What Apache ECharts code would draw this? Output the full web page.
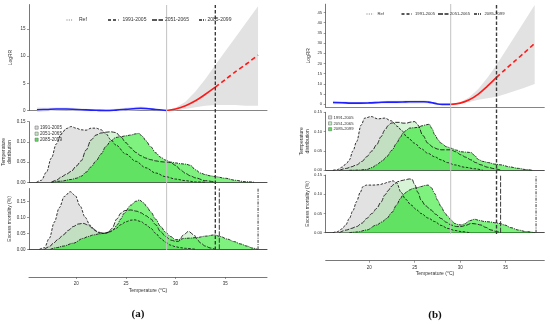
<!DOCTYPE html>
<html><head><meta charset="utf-8">
<script src="https://cdn.jsdelivr.net/npm/echarts@6/dist/echarts.min.js"></script>
<style>html,body{margin:0;padding:0;background:#fff}#c{width:550px;height:324px}</style>
</head><body><div id="c"></div>
<script>
// ================= DATA =================
const periods = ['1991-2005', '2051-2065', '2085-2099'];
const refLabel = 'Ref';
const xTicks = [20, 25, 30, 35];
const rrTicksA = [0, 5, 10, 15];
const rrTicksB = [0, 5, 10, 15, 20, 25, 30, 35, 40, 45];
const fracTicks = [0, 0.05, 0.10, 0.15];
const mmtA = 29.1, mmtB = 28.96;
const thrA = [34.0, 34.4, 38.3];
const thrB = [34.0, 34.45, 38.35];

// (a) exposure-response
const aBlueT = [16.05, 17, 18, 19, 20, 21, 22, 23, 24, 25, 26, 26.5, 27, 28, 29.1];
const aBlueV = [0.15, 0.2, 0.28, 0.28, 0.2, 0.12, 0.05, 0.0, 0.08, 0.22, 0.38, 0.42, 0.38, 0.2, 0];
const aBlueLo = [-0.25, -0.15, -0.05, 0, -0.05, -0.12, -0.15, -0.2, -0.15, -0.05, 0.05, 0.1, 0.1, 0.05, 0];
const aBlueHi = [0.55, 0.5, 0.55, 0.55, 0.45, 0.35, 0.25, 0.25, 0.35, 0.5, 0.7, 0.75, 0.65, 0.35, 0];
const aRedT = [29.1, 30, 31, 32, 33, 34];
const aRedV = [0, 0.3, 0.9, 1.8, 3.0, 4.3];
const aRedXT = [34, 35, 36, 37, 38.3];
const aRedXV = [4.3, 5.7, 7.1, 8.4, 10.2];
const aRedBandT = [30, 31, 32, 33, 34, 35, 36, 37, 38.3];
const aRedLo = [0.05, 0.3, 0.6, 0.9, 1.0, 1.0, 1.0, 0.9, 0.9];
const aRedHi = [0.5, 1.6, 3.5, 5.8, 8.4, 10.9, 13.4, 15.9, 19.2];

// (a) temperature distribution
const aD1T = [16.0, 16.5, 17.0, 17.5, 18.0, 18.5, 19.0, 19.5, 20.0, 20.5, 21.0, 21.5, 22.0, 22.5, 23.0, 23.5, 24.0, 25.0, 26.0, 27.0, 28.0, 29.0, 30.0, 31.0, 32.0, 33.0];
const aD1V = [0, 0.005, 0.025, 0.06, 0.095, 0.12, 0.133, 0.138, 0.134, 0.13, 0.129, 0.134, 0.134, 0.13, 0.12, 0.105, 0.092, 0.07, 0.052, 0.036, 0.023, 0.014, 0.008, 0.004, 0.001, 0];
const aD2T = [17.5, 18.0, 18.5, 19.0, 19.5, 20.0, 20.5, 21.0, 21.5, 22.0, 22.5, 23.0, 23.5, 24.0, 24.5, 25.0, 25.5, 26.0, 26.5, 27.0, 27.5, 28.0, 28.5, 29.0, 29.5, 30.0, 30.5, 31.0, 31.5, 32.0, 33.0, 34.0];
const aD2V = [0, 0.005, 0.013, 0.02, 0.027, 0.04, 0.053, 0.08, 0.105, 0.117, 0.122, 0.124, 0.125, 0.123, 0.112, 0.098, 0.085, 0.074, 0.066, 0.06, 0.056, 0.053, 0.051, 0.05, 0.049, 0.042, 0.031, 0.022, 0.016, 0.011, 0.004, 0];
const aD3T = [17.5, 18.5, 19.5, 20.0, 20.5, 21.0, 21.5, 22.0, 22.5, 23.0, 23.5, 24.0, 24.5, 25.0, 25.5, 26.0, 26.3, 26.7, 27.0, 27.5, 28.0, 28.5, 29.0, 29.5, 30.0, 30.5, 31.0, 31.5, 32.0, 32.5, 33.0, 33.5, 34.0, 35.0, 36.0, 37.0, 38.0];
const aD3V = [0, 0.003, 0.007, 0.01, 0.015, 0.025, 0.038, 0.053, 0.07, 0.089, 0.103, 0.111, 0.113, 0.115, 0.117, 0.12, 0.121, 0.113, 0.103, 0.088, 0.073, 0.062, 0.055, 0.05, 0.048, 0.046, 0.045, 0.042, 0.031, 0.023, 0.019, 0.016, 0.014, 0.01, 0.005, 0.0015, 0];

// (a) excess mortality
const aM1T = [16.3, 16.8, 17.3, 17.8, 18.3, 18.8, 19.4, 19.9, 20.4, 20.9, 21.4, 21.9, 22.4, 22.9, 23.4, 24.0, 24.5, 25.0, 25.5, 25.9, 26.5, 27.0, 27.5, 28.0, 28.5, 29.0, 29.5, 30.0, 30.5, 31.0, 32.0];
const aM1V = [0, 0.005, 0.035, 0.085, 0.13, 0.165, 0.18, 0.168, 0.135, 0.1, 0.075, 0.058, 0.05, 0.05, 0.055, 0.065, 0.077, 0.086, 0.091, 0.092, 0.087, 0.077, 0.066, 0.05, 0.034, 0.022, 0.013, 0.008, 0.005, 0.003, 0];
const aM2T = [16.8, 17.3, 17.7, 18.2, 18.7, 19.2, 19.7, 20.2, 20.7, 21.2, 21.7, 22.2, 22.75, 23.2, 23.6, 24.1, 24.5, 24.9, 25.5, 26.1, 26.5, 27.0, 27.5, 28.0, 28.5, 29.0, 29.5, 30.0, 30.3, 30.8, 31.3, 31.85, 32.2, 32.5, 33.0, 33.5, 34.0];
const aM2V = [0, 0.008, 0.019, 0.032, 0.045, 0.059, 0.071, 0.079, 0.081, 0.076, 0.064, 0.054, 0.05, 0.052, 0.065, 0.095, 0.113, 0.121, 0.123, 0.119, 0.114, 0.105, 0.095, 0.077, 0.055, 0.04, 0.029, 0.025, 0.025, 0.045, 0.056, 0.045, 0.03, 0.02, 0.01, 0.004, 0];
const aM3T = [17.4, 18.0, 18.7, 19.7, 20.7, 21.2, 21.75, 22.3, 22.75, 23.4, 23.8, 24.1, 24.5, 24.8, 25.5, 26.0, 26.35, 26.8, 27.1, 27.5, 28.0, 28.5, 29.0, 29.5, 30.0, 30.5, 30.8, 31.5, 32.2, 33.0, 33.9, 34.5, 35.2, 35.9, 36.5, 37.2, 37.7, 38.25];
const aM3V = [0, 0.005, 0.01, 0.019, 0.034, 0.04, 0.045, 0.048, 0.05, 0.055, 0.063, 0.076, 0.095, 0.112, 0.138, 0.15, 0.154, 0.145, 0.133, 0.117, 0.094, 0.071, 0.053, 0.04, 0.03, 0.031, 0.034, 0.035, 0.037, 0.041, 0.045, 0.04, 0.032, 0.024, 0.017, 0.01, 0.004, 0];

// (b) exposure-response
const bBlueT = [16.0, 17, 18, 19, 20, 21, 22, 23, 24, 25, 26, 26.5, 27, 27.5, 28, 28.96];
const bBlueV = [0.9, 0.8, 0.6, 0.6, 0.7, 0.9, 1.1, 1.1, 1.2, 1.3, 1.3, 1.1, 0.7, 0.2, 0.0, 0];
const bBlueLo = [0.1, 0.2, 0.1, 0.1, 0.2, 0.3, 0.4, 0.4, 0.4, 0.4, 0.5, 0.4, 0.2, -0.1, -0.2, 0];
const bBlueHi = [1.8, 1.5, 1.2, 1.2, 1.3, 1.5, 1.7, 1.8, 1.9, 2.0, 2.0, 1.8, 1.2, 0.6, 0.2, 0];
const bRedT = [28.96, 30, 31, 32, 33, 34];
const bRedV = [0, 0.6, 2.2, 5.0, 8.9, 13.2];
const bRedXT = [34, 35, 36, 37, 38.2];
const bRedXV = [13.2, 17.2, 21.1, 25.0, 29.8];
const bRedBandT = [30, 31, 32, 33, 34, 35, 36, 37, 38.2];
const bRedLo = [0.3, 1.2, 2.2, 3.0, 3.7, 5.0, 6.5, 8.0, 9.9];
const bRedHi = [1.0, 3.5, 7.5, 13.0, 19.2, 26.2, 33.2, 40.2, 48.6];

// (b) temperature distribution
const bD1T = [16.0, 16.5, 17.0, 17.5, 17.8, 18.2, 18.6, 19.1, 19.5, 20.2, 20.95, 21.7, 22.4, 23.15, 23.5, 24.2, 25.0, 25.7, 26.45, 27.2, 27.9, 28.6, 29.4, 30.5, 31.6, 32.5];
const bD1V = [0, 0.002, 0.008, 0.018, 0.027, 0.05, 0.074, 0.117, 0.135, 0.139, 0.133, 0.135, 0.128, 0.113, 0.104, 0.085, 0.07, 0.056, 0.044, 0.035, 0.027, 0.02, 0.014, 0.008, 0.004, 0];
const bD2T = [16.7, 17.5, 18.0, 18.6, 19.2, 19.7, 20.3, 20.8, 21.3, 21.7, 22.1, 22.4, 22.9, 23.3, 23.7, 24.1, 24.6, 25.0, 25.35, 25.9, 26.45, 27.0, 27.5, 27.9, 28.5, 29.0, 29.5, 30.1, 30.6, 31.2, 31.7, 32.3, 33.0, 33.8, 34.5];
const bD2V = [0, 0.005, 0.009, 0.014, 0.023, 0.035, 0.05, 0.066, 0.087, 0.104, 0.116, 0.122, 0.124, 0.124, 0.122, 0.122, 0.125, 0.126, 0.117, 0.09, 0.07, 0.06, 0.055, 0.053, 0.053, 0.053, 0.048, 0.04, 0.034, 0.027, 0.02, 0.014, 0.008, 0.004, 0];
const bD3T = [17.8, 18.7, 19.7, 20.3, 20.8, 21.4, 21.9, 22.5, 23.0, 23.4, 23.7, 24.1, 24.4, 24.9, 25.35, 25.8, 26.3, 26.6, 26.9, 27.2, 27.6, 27.9, 28.5, 29.0, 29.6, 30.1, 30.6, 31.2, 31.6, 32.0, 32.5, 33.1, 33.8, 34.5, 35.4, 36.4, 37.2, 38.0];
const bD3V = [0, 0.0005, 0.002, 0.007, 0.014, 0.024, 0.035, 0.052, 0.07, 0.085, 0.096, 0.104, 0.109, 0.11, 0.111, 0.115, 0.118, 0.119, 0.108, 0.092, 0.078, 0.07, 0.061, 0.057, 0.052, 0.048, 0.047, 0.046, 0.038, 0.028, 0.023, 0.02, 0.016, 0.014, 0.009, 0.005, 0.002, 0];

// (b) excess mortality
const bM1T = [16.0, 16.5, 17.0, 17.4, 17.8, 18.2, 18.6, 19.0, 19.3, 19.7, 20.4, 21.1, 21.6, 22.1, 22.6, 23.0, 23.5, 24.0, 24.6, 25.2, 25.7, 26.5, 27.2, 27.9, 28.65, 29.4, 30.1, 31.0];
const bM1V = [0, 0.003, 0.01, 0.02, 0.037, 0.058, 0.081, 0.105, 0.12, 0.124, 0.124, 0.125, 0.128, 0.132, 0.135, 0.13, 0.105, 0.087, 0.072, 0.06, 0.05, 0.038, 0.029, 0.019, 0.011, 0.006, 0.003, 0];
const bM2T = [16.7, 17.5, 18.0, 18.6, 19.2, 19.7, 20.3, 20.8, 21.3, 21.7, 22.1, 22.4, 22.8, 23.15, 23.6, 24.0, 24.4, 24.7, 25.0, 25.35, 25.7, 26.2, 26.8, 27.3, 27.9, 28.5, 29.0, 29.6, 30.1, 30.6, 31.2, 31.7, 32.3, 32.8, 33.4, 34.0, 34.5];
const bM2V = [0, 0.007, 0.011, 0.016, 0.025, 0.037, 0.05, 0.063, 0.08, 0.098, 0.11, 0.12, 0.128, 0.133, 0.136, 0.138, 0.14, 0.139, 0.125, 0.105, 0.085, 0.07, 0.059, 0.048, 0.037, 0.027, 0.02, 0.016, 0.016, 0.019, 0.024, 0.023, 0.02, 0.014, 0.007, 0.003, 0];
const bM3T = [17.8, 18.7, 19.7, 20.8, 21.4, 21.9, 22.5, 23.0, 23.4, 23.7, 24.1, 24.4, 24.8, 25.2, 25.7, 26.1, 26.45, 26.8, 27.2, 27.5, 27.9, 28.3, 28.65, 29.0, 29.4, 29.8, 30.1, 30.5, 31.0, 31.6, 32.1, 32.7, 33.3, 33.8, 34.4, 34.9, 35.6, 36.4, 37.2, 38.2];
const bM3V = [0, 0.002, 0.007, 0.02, 0.028, 0.037, 0.053, 0.072, 0.088, 0.098, 0.106, 0.111, 0.115, 0.117, 0.12, 0.123, 0.124, 0.118, 0.102, 0.085, 0.068, 0.052, 0.042, 0.033, 0.024, 0.021, 0.02, 0.023, 0.031, 0.035, 0.032, 0.029, 0.028, 0.026, 0.024, 0.02, 0.013, 0.007, 0.003, 0];

// ================= STYLE =================
const FONT = 'Liberation Sans, Arial, sans-serif';
const DASH = [[2.5, 1.5], [4.5, 1.5], [3, 1, 1, 1]];
const FILL = ['rgba(185,185,185,0.42)', 'rgba(110,215,110,0.28)', 'rgba(10,228,10,0.52)'];
const BOXFILL = ['#dcdcdc', '#c3ebc3', '#55e055'];
const AX = '#555';

function zip(t, v) { return t.map((x, i) => [x, v[i]]); }

// ================= LAYOUT =================
const colA = { left: 29, width: 238, xmin: 15.25, xmax: 39.2 };
const colB = { left: 325.7, width: 218.6, xmin: 15.2, xmax: 39.26 };
const grids = [
  { ...colA, top: 4.55, height: 106 },      // 0 logRR
  { ...colA, top: 121.7, height: 60.6 },    // 1 distribution
  { ...colA, top: 188.5, height: 60.8 },    // 2 excess mortality
  { ...colA, top: 276, height: 1 },         // 3 temperature axis
  { ...colA, top: 5, height: 245 },         // 4 overlay
  { ...colB, top: 4.2, height: 103.2 },     // 5
  { ...colB, top: 112.3, height: 58 },      // 6
  { ...colB, top: 175.1, height: 57.6 },    // 7
  { ...colB, top: 259.7, height: 1 },       // 8
  { ...colB, top: 4, height: 230 }          // 9
];

const gridOpt = grids.map(g => ({ left: g.left, top: g.top, width: g.width, height: g.height, containLabel: false, outerBoundsMode: 'none' }));

const xAxes = grids.map((g, i) => {
  const isAxis = (i === 3 || i === 8);
  const isOverlay = (i === 4 || i === 9);
  const base = { type: 'value', gridIndex: i, min: g.xmin, max: g.xmax, splitLine: { show: false } };
  if (isOverlay) return { ...base, show: false };
  if (isAxis) return {
    ...base,
    axisLine: { show: true, onZero: false, lineStyle: { color: AX, width: 0.8 } },
    axisTick: { show: true, length: 2, customValues: xTicks, lineStyle: { color: AX, width: 0.6 } },
    axisLabel: { show: true, customValues: xTicks, fontSize: 4.5, color: '#333', fontFamily: FONT, margin: i === 3 ? 4 : 4.5 },
    name: 'Temperature (°C)', nameLocation: 'middle', nameGap: i === 3 ? 11 : 9.5,
    nameTextStyle: { fontSize: 5, color: '#333', fontFamily: FONT }
  };
  return { ...base,
    axisLine: { show: true, onZero: false, lineStyle: { color: (i === 0 || i === 5) ? '#666' : '#222', width: 0.8 } },
    axisTick: { show: false }, axisLabel: { show: false } };
});

function yAx(i, min, max, ticks, fmt, name, gap, fs) {
  return {
    type: 'value', gridIndex: i, min, max, splitLine: { show: false },
    axisLine: { show: true, lineStyle: { color: AX, width: 0.8 } },
    axisTick: { show: true, length: 2, customValues: ticks, lineStyle: { color: AX, width: 0.6 } },
    axisLabel: { show: true, customValues: ticks, fontSize: fs || 4.5, color: '#333', fontFamily: FONT, margin: 3.5, formatter: fmt },
    name, nameLocation: 'middle', nameGap: gap, nameRotate: 90,
    nameTextStyle: { fontSize: 5, color: '#333', fontFamily: FONT, lineHeight: 6 }
  };
}
const f2 = v => v.toFixed(2);
const f0 = v => String(v);
const hidden = i => ({ type: 'value', gridIndex: i, min: 0, max: 1, show: false });
const yAxes = [
  yAx(0, 0, 19.5, rrTicksA, f0, 'LogRR', 15),
  yAx(1, 0, 0.15, fracTicks, f2, 'Temperature\ndistribution', 14),
  yAx(2, 0, 0.19, fracTicks, f2, 'Excess mortality (%)', 15),
  hidden(3), hidden(4),
  yAx(5, -1.5, 49, rrTicksB, f0, 'LogRR', 14, 4.2),
  yAx(6, 0, 0.15, fracTicks, f2, 'Temperature\ndistribution', 15, 4.2),
  yAx(7, 0, 0.15, fracTicks, f2, 'Excess mortality (%)', 13, 4.2),
  hidden(8), hidden(9)
];

// ================= SERIES =================
const series = [];
function rrPanel(gi, blueT, blueV, blueLo, blueHi, redT, redV, redXT, redXV, bandT2, lo2, hi2) {
  const bT = blueT.concat(bandT2);
  const bLo = blueLo.concat(lo2);
  const bHi = blueHi.concat(hi2);
  // confidence band drawn as a polygon through the axis scales
  series.push({ type: 'custom', xAxisIndex: gi, yAxisIndex: gi, data: [[bT[0], bLo[0]]], silent: true, clip: false, z: 1,
    renderItem: (params, api) => {
      const up = bT.map((t, k) => api.coord([t, bHi[k]]));
      const dn = bT.map((t, k) => api.coord([t, bLo[k]])).reverse();
      return { type: 'polygon', shape: { points: up.concat(dn) }, style: { fill: '#e2e2e2' } };
    } });
  series.push({ type: 'line', xAxisIndex: gi, yAxisIndex: gi, data: zip(blueT, blueV), symbol: 'none', smooth: 0.4,
    lineStyle: { color: '#1f1fff', width: 1.6 }, clip: false, silent: true, z: 3 });
  series.push({ type: 'line', xAxisIndex: gi, yAxisIndex: gi, data: zip(redT, redV), symbol: 'none', smooth: 0.4,
    lineStyle: { color: '#ff1a1a', width: 1.6 }, silent: true, z: 3 });
  series.push({ type: 'line', xAxisIndex: gi, yAxisIndex: gi, data: zip(redXT, redXV), symbol: 'none', smooth: 0.3,
    lineStyle: { color: '#ff1a1a', width: 1.6, type: [4.5, 3] }, silent: true, z: 3 });
}
rrPanel(0, aBlueT, aBlueV, aBlueLo, aBlueHi, aRedT, aRedV, aRedXT, aRedXV, aRedBandT, aRedLo, aRedHi);
rrPanel(5, bBlueT, bBlueV, bBlueLo, bBlueHi, bRedT, bRedV, bRedXT, bRedXV, bRedBandT, bRedLo, bRedHi);

function areas(gi, sets) {
  sets.forEach(([t, v], k) => {
    series.push({ type: 'line', name: periods[k], xAxisIndex: gi, yAxisIndex: gi, data: zip(t, v), symbol: 'none',
      smooth: 0.35, smoothMonotone: 'x', silent: true,
      lineStyle: { color: '#1a1a1a', width: 0.9, type: DASH[k] },
      areaStyle: { color: FILL[k], opacity: 1 } });
  });
}
areas(1, [[aD1T, aD1V], [aD2T, aD2V], [aD3T, aD3V]]);
areas(2, [[aM1T, aM1V], [aM2T, aM2V], [aM3T, aM3V]]);
areas(6, [[bD1T, bD1V], [bD2T, bD2V], [bD3T, bD3V]]);
areas(7, [[bM1T, bM1V], [bM2T, bM2V], [bM3T, bM3V]]);

function vline(gi, x, y1, color, width, type) {
  series.push({ type: 'line', xAxisIndex: gi, yAxisIndex: gi, data: [[x, 0], [x, y1]], symbol: 'none', silent: true, z: 6,
    lineStyle: { color, width, type } });
}
vline(4, mmtA, 1, '#c2c2c2', 1, 'solid');
vline(4, thrA[0], 1, '#3a3a3a', 1.4, [3.5, 2]);
vline(9, mmtB, 1, '#c2c2c2', 1, 'solid');
vline(9, thrB[0], 1, '#3a3a3a', 1.4, [3.5, 2]);
vline(2, thrA[1], 0.19, '#3a3a3a', 1, [5, 1.5]);
vline(2, thrA[2], 0.19, '#3a3a3a', 1, [3, 1.2, 1, 1.2]);
vline(7, thrB[1], 0.15, '#3a3a3a', 1, [5, 1.5]);
vline(7, thrB[2], 0.15, '#3a3a3a', 1, [3, 1.2, 1, 1.2]);

// ================= LEGENDS / LABELS =================
const graphic = [];
function lineLegend(y, items, fs) {
  const styles = [
    { stroke: '#777', lineWidth: 1, lineDash: [1, 1.3] },
    { stroke: '#222', lineWidth: 1.3, lineDash: [3, 2] },
    { stroke: '#222', lineWidth: 1.3, lineDash: [5, 1.5] },
    { stroke: '#222', lineWidth: 1.3, lineDash: [3, 1, 1, 1] }
  ];
  const labels = [refLabel].concat(periods);
  items.forEach((it, k) => {
    graphic.push({ type: 'line', silent: true, z: 100, shape: { x1: it[0], y1: y, x2: it[1], y2: y }, style: styles[k] });
    graphic.push({ type: 'text', silent: true, z: 100, x: it[2], y: y, style: { text: labels[k], fontSize: fs, fontFamily: FONT, fill: '#333', verticalAlign: 'middle' } });
  });
}
lineLegend(20, [[66.5, 73, 79], [108, 118.5, 122.5], [152, 163, 165], [199, 205.5, 207.5]], 5);
lineLegend(14, [[366.5, 373.5, 377.5], [401.5, 412, 415], [438, 448.5, 450], [474, 481, 484.5]], 4.2);

function boxLegend(x, ys, tx, fs) {
  periods.forEach((p, k) => {
    graphic.push({ type: 'rect', silent: true, z: 100, shape: { x: x, y: ys[k] - 1.6, width: 3.2, height: 3.2 }, style: { fill: BOXFILL[k], stroke: '#666', lineWidth: 0.5 } });
    graphic.push({ type: 'text', silent: true, z: 100, x: tx, y: ys[k], style: { text: p, fontSize: fs, fontFamily: FONT, fill: '#333', verticalAlign: 'middle' } });
  });
}
boxLegend(35, [127.6, 133.7, 139.7], 40, 4.6);
boxLegend(328.5, [117.4, 123.4, 129.2], 333.5, 4.2);

graphic.push({ type: 'text', silent: true, z: 100, x: 138, y: 314, style: { text: '(a)', fontSize: 11, fontWeight: 'bold', fontFamily: 'Liberation Serif, serif', fill: '#111', align: 'center', verticalAlign: 'middle' } });
graphic.push({ type: 'text', silent: true, z: 100, x: 435, y: 315.5, style: { text: '(b)', fontSize: 11, fontWeight: 'bold', fontFamily: 'Liberation Serif, serif', fill: '#111', align: 'center', verticalAlign: 'middle' } });

const chart = echarts.init(document.getElementById('c'), null, { renderer: 'canvas' });
chart.setOption({
  animation: false,
  backgroundColor: '#ffffff',
  textStyle: { fontFamily: FONT },
  grid: gridOpt,
  xAxis: xAxes,
  yAxis: yAxes,
  series,
  graphic
});
</script>
</body></html>
